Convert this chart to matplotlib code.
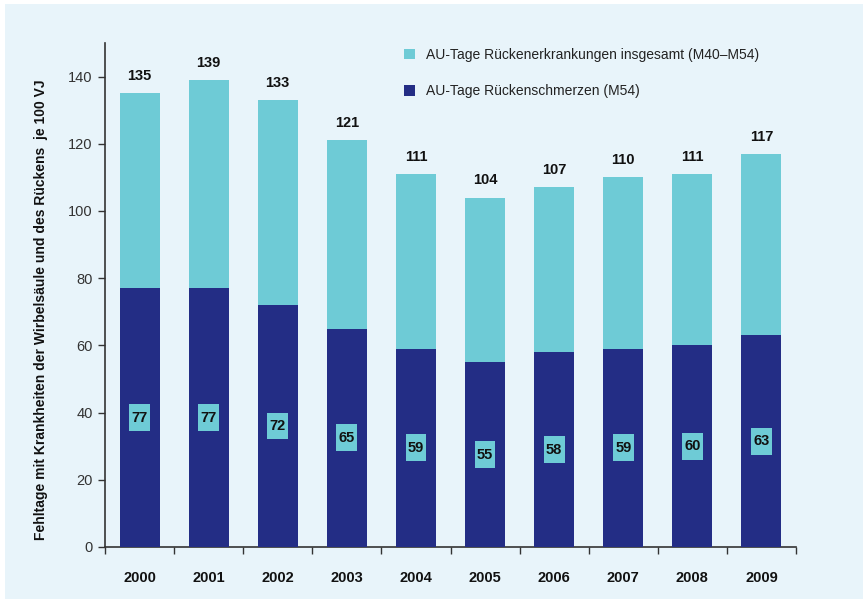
import matplotlib
matplotlib.use('Agg')
import matplotlib.pyplot as plt
from matplotlib.patches import Rectangle
import numpy as np

plt.rcParams['font.family'] = ['Liberation Sans', 'DejaVu Sans']

years = ['2000', '2001', '2002', '2003', '2004', '2005', '2006', '2007', '2008', '2009']
total_days = [135, 139, 133, 121, 111, 104, 107, 110, 111, 117]   # M40-M54
back_pain_days = [77, 77, 72, 65, 59, 55, 58, 59, 60, 63]        # M54

light = '#6ecbd6'
dark = '#232d85'
bg = '#e8f4fa'
axis_col = '#333333'

fig = plt.figure(figsize=(8.63, 6.01), dpi=100)
fig.patch.set_facecolor('white')
fig.patches.append(Rectangle((5 / 863, 2 / 601), 858 / 863, 595 / 601,
                             transform=fig.transFigure, facecolor=bg,
                             edgecolor='none', zorder=-10))

ax = fig.add_axes([105 / 863, 54 / 601, 691 / 863, 504 / 601])
ax.set_facecolor(bg)

x = np.arange(len(years))
w = 0.58
ax.bar(x, total_days, width=w, color=light,
       label='AU-Tage Rückenerkrankungen insgesamt (M40–M54)', zorder=2)
ax.bar(x, back_pain_days, width=w, color=dark,
       label='AU-Tage Rückenschmerzen (M54)', zorder=3)

for xi, t in zip(x, total_days):
    ax.text(xi, t + 3, str(t), ha='center', va='bottom', fontsize=10.5,
            fontweight='bold', color='#111111', zorder=4)

# light label boxes in the middle of the dark bars
mid = np.array(back_pain_days) / 2
box_h = 8
ax.bar(x, box_h, bottom=mid - box_h / 2, width=0.3, color=light, zorder=4)
for xi, v, m in zip(x, back_pain_days, mid):
    ax.text(xi, m, str(v), ha='center', va='center', fontsize=10.5,
            fontweight='bold', color='#111111', zorder=5)

ax.set_xlim(-0.5, len(years) - 0.5)
ax.set_ylim(0, 150)
ax.set_yticks(np.arange(0, 141, 20))
ax.tick_params(axis='y', direction='out', length=5, width=1, colors=axis_col,
               labelsize=10.5, pad=4)

# year labels centred, ticks on category boundaries
ax.set_xticks(x)
ax.set_xticklabels(years, fontsize=10.5, fontweight='bold', color='#111111')
ax.tick_params(axis='x', which='major', length=0, pad=17)
ax.set_xticks(np.arange(-0.5, len(years), 1), minor=True)
ax.tick_params(axis='x', which='minor', direction='out', length=5, width=1,
               colors=axis_col)

for s in ['top', 'right']:
    ax.spines[s].set_visible(False)
for s in ['left', 'bottom']:
    ax.spines[s].set_color(axis_col)
    ax.spines[s].set_linewidth(1.2)

ax.set_ylabel('Fehltage mit Krankheiten der Wirbelsäule und des Rückens  je 100 VJ',
              fontsize=10, fontweight='bold', color='#111111')
ax.yaxis.set_label_coords(-0.083, 0.47)

ax.legend(loc='upper left', bbox_to_anchor=(0.415, 1.015), frameon=False,
          fontsize=10, handlelength=0.8, handleheight=0.8, handletextpad=0.8,
          labelspacing=1.6, labelcolor='#222222')

fig.savefig('out.png', dpi=100, facecolor=fig.get_facecolor())
